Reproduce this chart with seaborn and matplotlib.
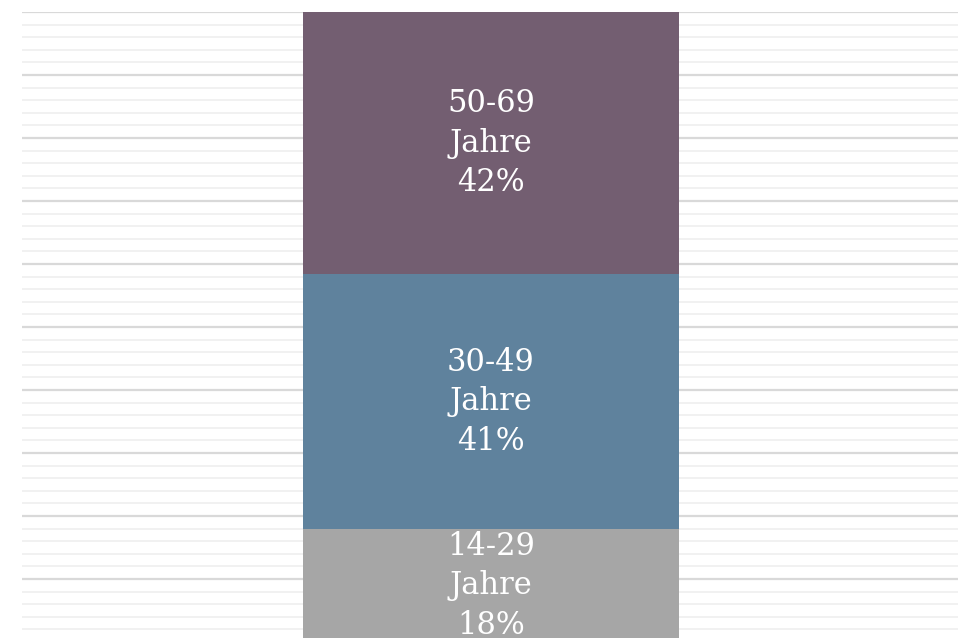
import matplotlib
matplotlib.use("Agg")
import matplotlib.pyplot as plt
from matplotlib.ticker import MultipleLocator
import pandas as pd
import seaborn as sns

# data (bottom to top), shares in percent
groups = ["14-29", "30-49", "50-69"]
shares = [17.9, 40.5, 41.6]
share_labels = ["18%", "41%", "42%"]
colors = ["#a6a6a6", "#5f829d", "#735e71"]

sns.set_style("white")
plt.rcParams['font.family'] = ['DejaVu Serif']

fig = plt.figure(figsize=(9.58, 6.38), dpi=100)
ax = fig.add_axes([22 / 958, -4 / 638, 936 / 958, 630 / 638])

# stacked bar: draw cumulative totals from the top down
cum = pd.Series(shares).cumsum()
for i in reversed(range(len(groups))):
    df = pd.DataFrame({"x": [""], "y": [cum[i]]})
    sns.barplot(data=df, x="x", y="y", color=colors[i], width=1.0,
                saturation=1, linewidth=0, ax=ax)

# segment labels
bottom = 0
for g, s, lab in zip(groups, shares, share_labels):
    ax.text(0, bottom + s / 2, f"{g}\nJahre\n{lab}", ha="center", va="center",
            color="white", fontsize=22, linespacing=1.35)
    bottom += s

ax.set_xlim(-1.247, 1.242)
ax.set_ylim(0, 100)
ax.yaxis.set_major_locator(MultipleLocator(10))
ax.yaxis.set_minor_locator(MultipleLocator(2))
ax.grid(which="major", axis="y", color="#d9d9d9", linewidth=1.6)
ax.grid(which="minor", axis="y", color="#f1f1f1", linewidth=1.4)
ax.grid(axis="x", visible=False)
ax.set_axisbelow(True)
ax.tick_params(which="both", left=False, bottom=False, labelleft=False, labelbottom=False)
ax.set_xlabel("")
ax.set_ylabel("")
for sp in ax.spines.values():
    sp.set_visible(False)

fig.savefig("out.png", dpi=100)
